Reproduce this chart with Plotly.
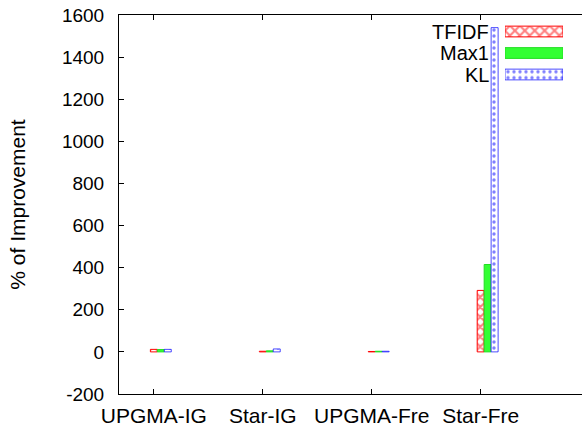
import plotly.graph_objects as go

categories = ["UPGMA-IG", "Star-IG", "UPGMA-Fre", "Star-Fre"]
tfidf = [12, 3, 2, 292]
max1 = [11, 5, 3, 415]
kl = [12, 14, 3, 1540]
series_names = ["TFIDF", "Max1", "KL"]
y_ticks = [-200, 0, 200, 400, 600, 800, 1000, 1200, 1400, 1600]
y_tick_text = ["-200", "0", "200", "400", "600", "800", "1000", "1200", "1400", "1600"]

W, H = 582, 431
L, R, T, B = 119, 0, 15, 37
FONT = "Liberation Sans, Arial, sans-serif"

xs = list(range(len(categories)))
bw = 0.064

styles = [
    dict(color="white", line=dict(color="red", width=1),
         pattern=dict(shape="x", fgcolor="red", bgcolor="white", size=7, solidity=0.5)),
    dict(color="#33ff33", line=dict(color="#22dd22", width=1)),
    dict(color="white", line=dict(color="rgba(0,0,255,0.7)", width=1),
         pattern=dict(shape=".", fgcolor="blue", bgcolor="white", size=6, solidity=0.25)),
]

fig = go.Figure()
for i, (name, vals) in enumerate(zip(series_names, [tfidf, max1, kl])):
    fig.add_trace(go.Bar(
        x=xs, y=vals, name=name, width=bw, offset=-bw / 2 + i * bw,
        marker=styles[i], showlegend=False,
    ))

# custom legend swatches (gnuplot-style: text left, sample right)
for i, name in enumerate(series_names):
    fig.add_trace(go.Bar(
        x=[1], y=[2 - i], orientation="h", width=0.5, base=0,
        marker=styles[i], xaxis="x2", yaxis="y2", showlegend=False,
        hoverinfo="skip",
    ))

pw = W - L - R
ph = H - T - B
def py(ypix):
    return (H - B - ypix) / ph

leg_y = [31.5, 53.0, 74.5]
for name, yp in zip(series_names, leg_y):
    fig.add_annotation(text=name, x=(491 - L) / pw, y=py(yp), xref="paper", yref="paper",
                       xanchor="right", yanchor="middle", showarrow=False,
                       font=dict(family=FONT, size=20, color="black"))

fig.update_layout(
    width=W, height=H,
    margin=dict(l=L, r=R, t=T, b=B, pad=0),
    paper_bgcolor="white", plot_bgcolor="white",
    barmode="overlay",
    font=dict(family=FONT, size=20, color="black"),
    xaxis=dict(
        range=[-0.32, 3.93], tickvals=xs, ticktext=categories,
        showgrid=False, zeroline=False, showline=True, linecolor="black", linewidth=1,
        mirror="ticks", ticks="inside", ticklen=5, tickcolor="black",
        tickfont=dict(family=FONT, size=21), ticklabelstandoff=3,
    ),
    yaxis=dict(
        range=[-200, 1600], tickvals=y_ticks, ticktext=y_tick_text,
        showgrid=False, zeroline=False, showline=True, linecolor="black", linewidth=1,
        mirror=False, ticks="inside", ticklen=5, tickcolor="black",
        tickfont=dict(family=FONT, size=19), ticklabelstandoff=10,
        title=dict(text="% of Improvement", font=dict(family=FONT, size=21), standoff=30),
    ),
    xaxis2=dict(domain=[(505 - L) / pw, (563 - L) / pw], range=[0, 1], anchor="y2",
                visible=False, fixedrange=True),
    yaxis2=dict(domain=[py(85.25), py(20.75)], range=[-0.5, 2.5], anchor="x2",
                visible=False, fixedrange=True),
)

fig.write_html("out.html")
